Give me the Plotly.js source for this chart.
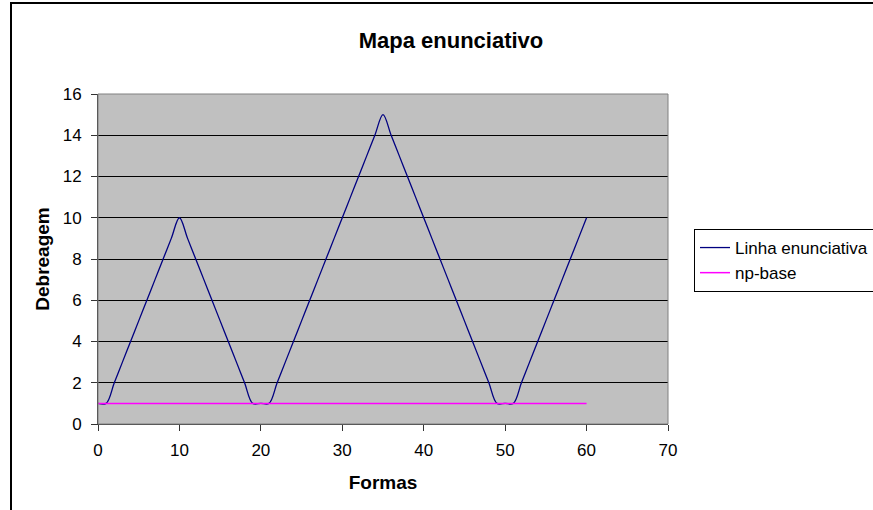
<!DOCTYPE html>
<html>
<head>
<meta charset="utf-8">
<script src="https://cdn.plot.ly/plotly-3.0.1.min.js"></script>
<style>html,body{margin:0;padding:0;background:#fff;}#chart{width:873px;height:510px;}</style>
</head>
<body>
<div id="chart"></div>
<script>
const formas = [0,1,2,3,4,5,6,7,8,9,10,11,12,13,14,15,16,17,18,19,20,21,22,23,24,25,26,27,28,29,30,31,32,33,34,35,36,37,38,39,40,41,42,43,44,45,46,47,48,49,50,51,52,53,54,55,56,57,58,59,60];
const linhaEnunciativa = [1,1,2,3,4,5,6,7,8,9,10,9,8,7,6,5,4,3,2,1,1,1,2,3,4,5,6,7,8,9,10,11,12,13,14,15,14,13,12,11,10,9,8,7,6,5,4,3,2,1,1,1,2,3,4,5,6,7,8,9,10];
const npBase = [1,1,1,1,1,1,1,1,1,1,1,1,1,1,1,1,1,1,1,1,1,1,1,1,1,1,1,1,1,1,1,1,1,1,1,1,1,1,1,1,1,1,1,1,1,1,1,1,1,1,1,1,1,1,1,1,1,1,1,1,1];
const seriesNames = ["Linha enunciativa", "np-base"];
const chartTitle = "Mapa enunciativo";
const xTitle = "Formas";
const yTitle = "Debreagem";

const traces = [
  {x: formas, y: linhaEnunciativa, name: seriesNames[0], type: 'scatter', mode: 'lines',
   line: {color: '#000080', width: 1.3, shape: 'spline', smoothing: 1}},
  {x: formas, y: npBase, name: seriesNames[1], type: 'scatter', mode: 'lines',
   line: {color: '#FF00FF', width: 1.5}}
];

const font = "'Liberation Sans', Arial, sans-serif";
const layout = {
  width: 873, height: 510,
  margin: {l: 98, r: 205, t: 94, b: 86, autoexpand: false},
  paper_bgcolor: '#ffffff',
  plot_bgcolor: '#C0C0C0',
  font: {family: font, size: 17, color: '#000'},
  title: {text: '<b>' + chartTitle + '</b>', font: {family: font, size: 22, color: '#000'},
          x: 451/873, xanchor: 'center', y: 1 - 40/510, yanchor: 'middle'},
  xaxis: {
    range: [0, 70], dtick: 10, tick0: 0, showgrid: false, zeroline: false,
    showline: true, linecolor: '#333', linewidth: 1,
    ticks: 'outside', ticklen: 6, tickcolor: '#333', ticklabelstandoff: 5,
    tickfont: {family: font, size: 17},
    title: {text: '<b>' + xTitle + '</b>', font: {family: font, size: 19}, standoff: 16}
  },
  yaxis: {
    range: [0, 16], dtick: 2, tick0: 0, showgrid: true, gridcolor: '#000', gridwidth: 1,
    zeroline: false, showline: true, linecolor: '#333', linewidth: 1,
    ticks: 'outside', ticklen: 6, tickcolor: '#333', ticklabelstandoff: 6,
    tickfont: {family: font, size: 17},
    title: {text: '<b>' + yTitle + '</b>', font: {family: font, size: 19}, standoff: 8}
  },
  showlegend: true,
  legend: {
    x: (694 - 98) / 570, y: (424 - 229) / 330, xanchor: 'left', yanchor: 'top',
    bgcolor: '#fff', bordercolor: '#000', borderwidth: 1,
    font: {family: font, size: 17}, tracegroupgap: 0, itemwidth: 30
  },
  shapes: [
    {type: 'rect', xref: 'paper', yref: 'paper', x0: 0, x1: 1, y0: 0, y1: 1,
     line: {color: '#808080', width: 1}, layer: 'above'},
    {type: 'rect', xref: 'paper', yref: 'paper',
     x0: (11 - 98) / 570, x1: (890 - 98) / 570, y0: (424 - 515) / 330, y1: (424 - 3) / 330,
     line: {color: '#000', width: 2}, layer: 'above'}
  ]
};

Plotly.newPlot('chart', traces, layout, {displayModeBar: false, staticPlot: true});
</script>
</body>
</html>
